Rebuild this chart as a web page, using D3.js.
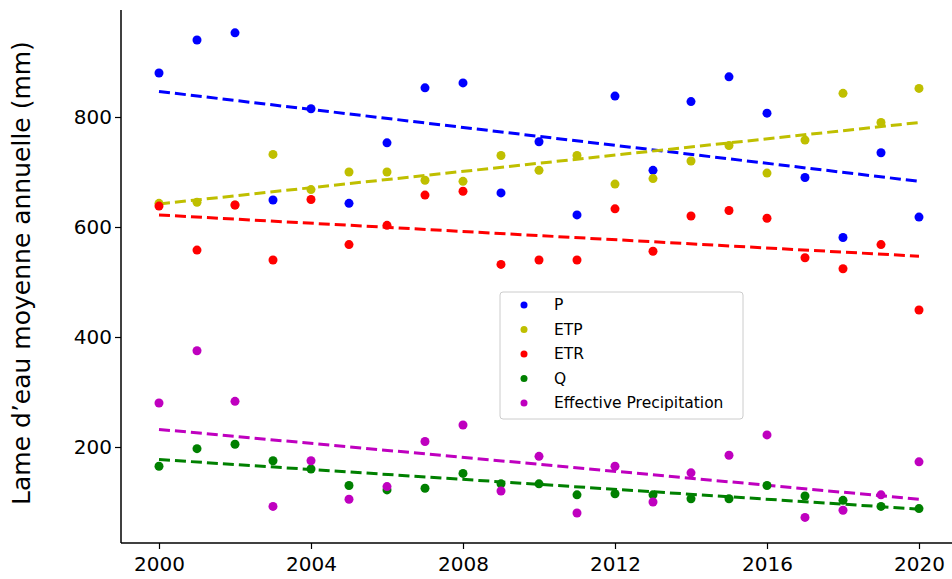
<!DOCTYPE html>
<html><head><meta charset="utf-8">
<script src="https://cdn.jsdelivr.net/npm/d3@7"></script>
<style>body{margin:0;background:#fff}svg{font-family:"DejaVu Sans",sans-serif}</style>
</head><body><svg id="c" width="952" height="579"></svg>
<script>
const years = d3.range(2000, 2021);
const P   = [880,940,953,649,815,643,753,853,862,662,755,622,838,703,828,873,807,690,581,735,618];
const ETP = [643,645,640,732,668,700,700,685,683,730,703,730,678,688,720,748,698,758,843,790,852];
const ETR = [638,558,640,540,650,568,603,658,665,532,540,540,633,556,620,630,616,544,524,568,449];
const Q   = [165,197,205,175,160,130,122,125,152,133,133,113,115,113,106,106,130,111,103,92,88];
const EP  = [280,375,283,92,175,105,128,210,240,120,183,80,165,100,153,185,222,72,85,113,173];
const seriesNames = ["P","ETP","ETR","Q","Effective Precipitation"];
const colors = ["#0000ff","#bfbf00","#ff0000","#008000","#bf00bf"];
const xTicks = [2000,2004,2008,2012,2016,2020];
const yTicks = [200,400,600,800];
const all = [P,ETP,ETR,Q,EP];

const svg = d3.select("#c");
const x = d3.scaleLinear().domain([2000,2020]).range([159,919]);
const y = d3.scaleLinear().domain([200,800]).range([447,117]);
const L=121, B=543, T=10;

svg.append("line").attr("x1",L).attr("x2",L).attr("y1",T).attr("y2",B).attr("stroke","#000").attr("stroke-width",1.5);
svg.append("line").attr("x1",L).attr("x2",952).attr("y1",B).attr("y2",B).attr("stroke","#000").attr("stroke-width",1.5);
const xa = svg.append("g").attr("transform",`translate(0,${B})`).call(d3.axisBottom(x).tickValues(xTicks).tickFormat(d3.format("d")).tickSize(6));
const ya = svg.append("g").attr("transform",`translate(${L},0)`).call(d3.axisLeft(y).tickValues(yTicks).tickSize(6));
[xa,ya].forEach(a=>{a.select(".domain").remove();a.selectAll("text").attr("font-size",20).attr("font-family","DejaVu Sans").attr("fill","#000");a.selectAll("line").attr("stroke-width",1.2);});
xa.selectAll("text").attr("dy","0.95em");
svg.append("text").attr("transform","translate(30,273) rotate(-90)").attr("text-anchor","middle")
  .attr("font-size",25).text("Lame d\u2019eau moyenne  annuelle (mm)");

all.forEach((s,i)=>{
  const mx=d3.mean(years), my=d3.mean(s);
  const b=d3.sum(years,(t,k)=>(t-mx)*(s[k]-my))/d3.sum(years,t=>(t-mx)**2);
  const a=my-b*mx;
  svg.append("line").attr("x1",x(2000)).attr("x2",x(2020)).attr("y1",y(a+b*2000)).attr("y2",y(a+b*2020))
    .attr("stroke",colors[i]).attr("stroke-width",3).attr("stroke-dasharray","11,5");
});
all.forEach((s,i)=>{
  svg.append("g").selectAll("circle").data(s).join("circle")
    .attr("cx",(d,k)=>x(years[k])).attr("cy",d=>y(d)).attr("r",4.5).attr("fill",colors[i]);
});
const lg = svg.append("g").attr("transform","translate(500,292)");
lg.append("rect").attr("width",243).attr("height",127).attr("rx",3).attr("fill","#fff").attr("stroke","#ccc");
seriesNames.forEach((n,i)=>{
  lg.append("circle").attr("cx",24).attr("cy",13+i*24.5).attr("r",3.5).attr("fill",colors[i]);
  lg.append("text").attr("x",54).attr("y",13+i*24.5).attr("dy","0.35em").attr("font-size",15.5).text(n);
});
</script></body></html>
